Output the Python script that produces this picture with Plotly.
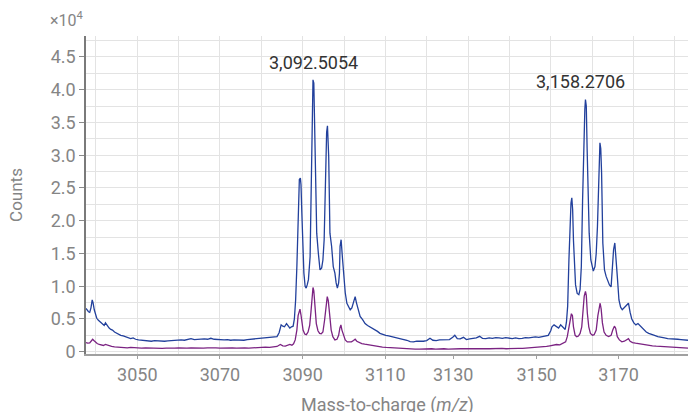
import plotly.graph_objects as go

# ---- data ----
mz_blue = [3037.6, 3037.9, 3038.2, 3038.5, 3038.8, 3039.1, 3039.3, 3039.6, 3039.9, 3040.2,
           3040.6, 3040.9, 3041.3, 3041.7, 3042.0, 3042.3, 3042.5, 3042.8, 3043.2, 3043.6,
           3044.0, 3044.5, 3045.0, 3045.5, 3046.0, 3046.6, 3047.2, 3047.8, 3048.4, 3049.0,
           3049.6, 3050.3, 3051.0, 3051.8, 3052.6, 3053.4, 3054.2, 3055.0, 3055.8, 3056.6,
           3057.4, 3058.2, 3059.0, 3059.8, 3060.6, 3061.4, 3062.2, 3063.0, 3063.8, 3064.6,
           3065.4, 3066.2, 3067.0, 3067.8, 3068.6, 3069.4, 3070.2, 3071.0, 3071.8, 3072.6,
           3073.4, 3074.2, 3075.0, 3075.8, 3076.6, 3077.4, 3078.2, 3079.0, 3079.8, 3080.6,
           3081.4, 3082.2, 3083.0, 3083.8, 3084.3, 3084.8, 3085.2, 3085.6, 3086.1, 3086.5,
           3086.9, 3087.3, 3087.7, 3088.0, 3088.3, 3088.6, 3088.9, 3089.2, 3089.45, 3089.6,
           3089.8, 3090.0, 3090.3, 3090.6, 3090.85, 3091.1, 3091.4, 3091.8, 3092.0, 3092.25,
           3092.5, 3092.7, 3092.9, 3093.15, 3093.4, 3093.8, 3094.2, 3094.6, 3094.9, 3095.2,
           3095.5, 3095.8, 3096.0, 3096.3, 3096.6, 3097.0, 3097.4, 3097.8, 3098.1, 3098.4,
           3098.7, 3098.9, 3099.05, 3099.3, 3099.6, 3100.0, 3100.3, 3100.7, 3101.1, 3101.5,
           3101.9, 3102.3, 3102.7, 3103.0, 3103.3, 3103.9, 3104.5, 3105.1, 3105.7, 3106.3,
           3106.9, 3107.5, 3108.1, 3108.7, 3109.4, 3110.1, 3110.8, 3111.5, 3112.2, 3112.9,
           3113.6, 3114.4, 3115.2, 3116.0, 3116.8, 3117.6, 3118.4, 3119.2, 3120.0, 3120.8,
           3121.5, 3122.3, 3123.1, 3123.9, 3124.7, 3125.5, 3126.3, 3126.8, 3127.4, 3128.1,
           3128.9, 3129.6, 3130.4, 3131.2, 3132.0, 3132.8, 3133.5, 3134.3, 3135.1, 3135.9,
           3136.7, 3137.5, 3138.3, 3139.1, 3139.9, 3140.7, 3141.5, 3142.3, 3143.1, 3143.9,
           3144.7, 3145.5, 3146.3, 3147.1, 3147.9, 3148.7, 3149.4, 3150.0, 3150.3, 3150.8,
           3151.3, 3151.9, 3152.4, 3152.9, 3153.5, 3153.8, 3154.1, 3154.4, 3154.7, 3154.9,
           3155.1, 3155.3, 3155.5, 3155.7, 3156.0, 3156.4, 3156.8, 3157.1, 3157.4, 3157.7,
           3158.0, 3158.25, 3158.4, 3158.6, 3158.8, 3159.0, 3159.3, 3159.7, 3160.0, 3160.3,
           3160.7, 3161.0, 3161.3, 3161.6, 3161.9, 3162.1, 3162.3, 3162.6, 3163.0, 3163.4,
           3163.8, 3164.2, 3164.6, 3164.9, 3165.2, 3165.5, 3165.8, 3166.1, 3166.5, 3166.9,
           3167.3, 3167.8, 3168.3, 3168.8, 3169.2, 3169.6, 3170.1, 3170.6, 3171.1, 3171.4,
           3171.9, 3172.5, 3173.1, 3173.7, 3174.4, 3175.1, 3175.9, 3176.7, 3177.5, 3178.3,
           3179.1, 3179.9, 3180.7, 3181.5, 3182.3, 3183.2]
counts_blue = [6600, 6300, 6100, 6000, 6700, 7900, 7500, 6400, 5600, 5100,
               4800, 4600, 4300, 4100, 4000, 4400, 4200, 3800, 3600, 3400,
               3300, 3000, 2800, 2700, 2500, 2400, 2300, 2150, 2000, 2100,
               1900, 1800, 1750, 1700, 1650, 1600, 1700, 1650, 1700, 1600,
               1650, 1700, 1650, 1750, 1800, 1750, 1900, 2000, 1850, 1900,
               1850, 1950, 1900, 2050, 1900, 1850, 1900, 1800, 1850, 1750,
               1800, 1750, 1800, 1750, 1850, 1900, 1850, 1950, 2000, 2050,
               2100, 2200, 2150, 2300, 2900, 4100, 3900, 3800, 4300, 3900,
               3600, 3800, 3900, 5000, 7900, 13000, 22200, 26300, 26500, 25500,
               21200, 16100, 12000, 10000, 9700, 10200, 11000, 14500, 24700, 34900,
               41500, 41000, 34900, 27300, 18100, 15000, 12500, 12800, 14000, 17100,
               27300, 33500, 34500, 29800, 18100, 16100, 13000, 12000, 10500, 9700,
               10500, 12000, 16100, 17100, 14500, 11000, 9000, 7400, 6800, 6400,
               6700, 7400, 8400, 7500, 6900, 5400, 4900, 4300, 4000, 3800,
               3500, 3300, 3100, 2800, 2600, 2500, 2400, 2300, 2200, 2150,
               2050, 1900, 1750, 1550, 1500, 1600, 1550, 1600, 1700, 2050,
               1750, 1700, 1800, 1850, 1900, 1850, 2200, 2500, 2000, 1950,
               2200, 1850, 1950, 2000, 2100, 2350, 2050, 2000, 2100, 2050,
               2150, 2100, 2050, 2150, 2100, 2000, 2100, 2000, 2050, 2150,
               2100, 2200, 2250, 2200, 2300, 2400, 2500, 3200, 3800, 4100,
               3900, 3600, 4100, 3700, 3400, 4500, 7000, 14000, 20000, 22700,
               23500, 21700, 17000, 13500, 10200, 8900, 8700, 9500, 13000, 23000,
               32000, 37000, 38500, 37500, 31000, 24000, 18100, 14000, 12800, 12300,
               13000, 15000, 19100, 27800, 31900, 31000, 27300, 16600, 12500, 11500,
               10800, 10200, 9900, 12500, 15600, 16600, 14500, 11500, 7900, 6800,
               6400, 6700, 7000, 7400, 6000, 5000, 4400, 4100, 4300, 4100,
               3700, 3300, 3000, 2800, 2700, 2500, 2300, 2250, 2100, 2000,
               2000, 1950, 1900, 1850, 1800, 1750]

mz_purple = [3037.6, 3038.0, 3038.5, 3038.9, 3039.2, 3039.5, 3039.9, 3040.3, 3040.8, 3041.3,
             3041.8, 3042.3, 3042.7, 3043.2, 3043.8, 3044.5, 3045.2, 3046.0, 3046.8, 3047.6,
             3048.4, 3049.2, 3050.0, 3051.0, 3052.0, 3053.0, 3054.0, 3055.0, 3056.0, 3057.0,
             3058.0, 3059.0, 3060.0, 3061.0, 3062.0, 3063.0, 3064.0, 3065.0, 3066.0, 3067.0,
             3068.0, 3069.0, 3070.0, 3071.0, 3072.0, 3073.0, 3074.0, 3075.0, 3076.0, 3077.0,
             3078.0, 3079.0, 3080.0, 3081.0, 3082.0, 3083.0, 3083.8, 3084.6, 3085.2, 3085.8,
             3086.4, 3086.9, 3087.4, 3087.8, 3088.2, 3088.6, 3088.9, 3089.1, 3089.35, 3089.6,
             3089.85, 3090.1, 3090.5, 3090.9, 3091.3, 3091.7, 3092.0, 3092.25, 3092.5, 3092.7,
             3092.95, 3093.3, 3093.7, 3094.1, 3094.5, 3094.9, 3095.3, 3095.6, 3095.95, 3096.2,
             3096.5, 3096.9, 3097.3, 3097.8, 3098.3, 3098.7, 3099.0, 3099.25, 3099.5, 3099.9,
             3100.3, 3100.8, 3101.3, 3101.8, 3102.3, 3102.7, 3103.1, 3103.6, 3104.3, 3105.0,
             3105.8, 3106.6, 3107.5, 3108.4, 3109.3, 3110.2, 3111.2, 3112.2, 3113.2, 3114.2,
             3115.2, 3116.2, 3117.2, 3118.2, 3119.2, 3120.2, 3121.2, 3122.2, 3123.2, 3124.2,
             3125.2, 3126.2, 3127.2, 3128.2, 3129.2, 3130.2, 3131.2, 3132.2, 3133.2, 3134.2,
             3135.2, 3136.2, 3137.2, 3138.2, 3139.2, 3140.2, 3141.2, 3142.2, 3143.2, 3144.2,
             3145.2, 3146.2, 3147.2, 3148.2, 3149.0, 3149.8, 3150.6, 3151.4, 3152.2, 3153.0,
             3153.6, 3154.0, 3154.4, 3154.7, 3155.0, 3155.25, 3155.5, 3155.9, 3156.3, 3156.7,
             3157.1, 3157.5, 3157.8, 3158.1, 3158.4, 3158.6, 3158.85, 3159.2, 3159.6, 3160.1,
             3160.5, 3161.0, 3161.4, 3161.7, 3161.95, 3162.2, 3162.5, 3162.9, 3163.4, 3164.0,
             3164.6, 3165.0, 3165.4, 3165.7, 3166.1, 3166.6, 3167.2, 3167.8, 3168.4, 3168.8,
             3169.2, 3169.8, 3170.5, 3171.3, 3172.1, 3172.9, 3173.7, 3174.6, 3175.5, 3176.5,
             3177.5, 3178.5, 3179.5, 3180.5, 3181.5, 3182.5, 3183.2]
counts_purple = [1400, 1300, 1350, 1600, 1900, 1700, 1400, 1250, 1100, 1000,
                 950, 1100, 1000, 850, 800, 750, 700, 700, 650, 600,
                 650, 600, 600, 550, 600, 550, 500, 550, 500, 550,
                 500, 550, 600, 550, 550, 600, 550, 600, 550, 600,
                 650, 600, 550, 600, 550, 600, 550, 600, 600, 550,
                 600, 650, 600, 700, 650, 700, 800, 1100, 900, 850,
                 1000, 1100, 1000, 1200, 1800, 3300, 5500, 6200, 6500, 5600,
                 4300, 3300, 2700, 2600, 3000, 4000, 6000, 8500, 9800, 9300,
                 7000, 4300, 3200, 2800, 2750, 3000, 4800, 7000, 8400, 7800,
                 5500, 3300, 2300, 1800, 1900, 2500, 3600, 4100, 3300, 2500,
                 1800, 1500, 1450, 1500, 1700, 1900, 1600, 1400, 1250, 1150,
                 1050, 950, 850, 800, 700, 650, 600, 550, 500, 500,
                 450, 450, 400, 400, 450, 400, 450, 400, 450, 450,
                 400, 450, 500, 450, 450, 400, 450, 450, 500, 450,
                 450, 500, 450, 500, 450, 500, 450, 500, 500, 550,
                 500, 550, 600, 650, 800, 900, 1000, 1100, 1050, 1250,
                 1500, 2300, 4000, 5300, 5800, 5500, 3800, 2500, 2300, 2400,
                 2800, 3800, 6000, 8500, 9200, 8600, 5900, 3800, 2800, 2500,
                 2600, 3300, 5500, 7000, 7400, 6500, 4400, 3000, 2500, 2300,
                 2500, 3300, 3900, 3600, 2300, 1800, 1500, 1600, 1900, 2000,
                 1600, 1400, 1300, 1200, 1150, 1050, 1000, 900, 850, 800,
                 750, 700, 650, 650, 600, 550, 550]

peak_labels = ["3,092.5054", "3,158.2706"]
peak_mz = [3092.5054, 3158.2706]

x_tick_labels = ["3050", "3070", "3090", "3110", "3130", "3150", "3170"]
x_tick_positions = [3050, 3070, 3090, 3110, 3126.4, 3146.6, 3166.4]
y_tick_values = [0, 5000, 10000, 15000, 20000, 25000, 30000, 35000, 40000, 45000]
y_tick_labels = ["0", "0.5", "1.0", "1.5", "2.0", "2.5", "3.0", "3.5", "4.0", "4.5"]

# ---- styling ----
FONT = "Roboto"
GRID = "#e3e3e3"
TICKCOL = "#858585"
BLUE = "#22409c"
PURPLE = "#7b2382"
XRANGE = [3037.6, 3183.2]

fig = go.Figure()
fig.add_trace(go.Scatter(x=mz_blue, y=counts_blue, mode="lines",
                         line=dict(color=BLUE, width=1.3), showlegend=False))
fig.add_trace(go.Scatter(x=mz_purple, y=counts_purple, mode="lines",
                         line=dict(color=PURPLE, width=1.3), showlegend=False))
# carrier for the labelled x axis
fig.add_trace(go.Scatter(x=[], y=[], xaxis="x2", showlegend=False, hoverinfo="skip"))

fig.update_layout(
    width=688, height=412,
    margin=dict(l=86, r=0, t=36, b=58, autoexpand=False),
    plot_bgcolor="white", paper_bgcolor="white",
    font=dict(family=FONT, size=18, color=TICKCOL),
    xaxis=dict(
        range=XRANGE, tickmode="linear", tick0=3050, dtick=20,
        showgrid=True, gridcolor=GRID, gridwidth=1,
        minor=dict(tickmode="linear", tick0=3040, dtick=10, showgrid=True,
                   gridcolor=GRID, gridwidth=1),
        showticklabels=False, ticks="", zeroline=False, automargin=False,
        showline=True, linecolor="#a0a0a0", linewidth=1.5,
    ),
    xaxis2=dict(
        range=XRANGE, overlaying="x", anchor="y", side="bottom",
        tickmode="array", tickvals=x_tick_positions, ticktext=x_tick_labels,
        ticks="outside", ticklen=4, tickcolor="#a0a0a0", tickwidth=1,
        showgrid=False, zeroline=False, showline=False, automargin=False,
        tickfont=dict(family=FONT, size=18, color=TICKCOL),
    ),
    yaxis=dict(
        range=[-350, 48200], tickmode="array",
        tickvals=y_tick_values, ticktext=y_tick_labels,
        showgrid=True, gridcolor=GRID, gridwidth=1,
        minor=dict(tickmode="linear", tick0=0, dtick=2500, showgrid=True,
                   gridcolor=GRID, gridwidth=1),
        ticks="outside", ticklen=5, tickcolor="#8a8a8a", tickwidth=1,
        automargin=False,
        zeroline=False, showline=True, linecolor="#7a7a7a", linewidth=1.5,
        tickfont=dict(family=FONT, size=18, color=TICKCOL),
        title=dict(text="Counts", standoff=24,
                   font=dict(family=FONT, size=17, color=TICKCOL)),
    ),
    annotations=[
        dict(x=peak_mz[0], y=44100, xref="x", yref="y", text=peak_labels[0],
             showarrow=False, font=dict(family=FONT, size=18, color="#333333")),
        dict(x=peak_mz[1], y=41300, xref="x", yref="y", text=peak_labels[1],
             showarrow=False, xshift=-4, font=dict(family=FONT, size=18, color="#333333")),
        dict(x=0, y=1, xref="paper", yref="paper", xanchor="right", yanchor="bottom",
             text="×10<sup>4</sup>", showarrow=False, yshift=4,
             font=dict(family=FONT, size=16, color=TICKCOL)),
        dict(x=0.5, y=0, xref="paper", yref="paper", xanchor="center", yanchor="top",
             text="Mass-to-charge (<i>m/z</i>)", showarrow=False, yshift=-38,
             font=dict(family=FONT, size=18, color=TICKCOL)),
    ],
)

fig.write_html("out.html", config={"displayModeBar": False},
               post_script="document.body.style.margin='0';document.body.style.overflow='hidden';")
